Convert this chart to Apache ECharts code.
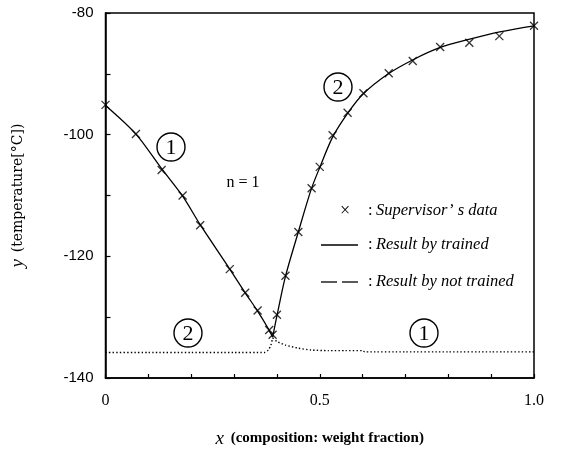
<!DOCTYPE html>
<html>
<head>
<meta charset="utf-8">
<script src="https://cdn.jsdelivr.net/npm/echarts@6/dist/echarts.min.js"></script>
<style>
html,body{margin:0;padding:0;background:#fff;}
#c{width:562px;height:455px;}
</style>
</head>
<body>
<div id="c"></div>
<script>
// Supervisor's data (x marks)
var supervisorX = [0, 0.071, 0.131, 0.180, 0.221, 0.290, 0.326, 0.355, 0.382, 0.390,
                   0.400, 0.420, 0.450, 0.481, 0.500, 0.530, 0.565, 0.602, 0.661, 0.717, 0.781, 0.849, 0.919, 1.0];
var supervisorY = [-95.1, -99.9, -105.8, -110.0, -114.9, -122.1, -126.0, -128.9, -132.1, -132.9,
                   -129.6, -123.2, -116.0, -108.8, -105.3, -100.1, -96.4, -93.2, -89.9, -87.9, -85.6, -84.9, -83.8, -82.1];
// Result by trained (solid) – branch 1 and branch 2
var trainedLeftX  = [0, 0.071, 0.131, 0.180, 0.221, 0.290, 0.326, 0.355, 0.380, 0.390];
var trainedLeftY  = [-95.2, -99.9, -105.6, -110.1, -114.8, -122.1, -126.0, -129.0, -131.9, -133.3];
var trainedRightX = [0.390, 0.400, 0.420, 0.450, 0.480, 0.500, 0.530, 0.565, 0.600, 0.660, 0.720, 0.780, 0.850, 0.920, 1.0];
var trainedRightY = [-133.3, -129.8, -123.3, -116.0, -109.0, -105.4, -100.4, -96.5, -93.4, -90.0, -87.6, -85.7, -84.3, -83.1, -82.1];
// Result by not trained (dotted)
var untrainedLeftX  = [0, 0.10, 0.20, 0.30, 0.372, 0.380, 0.386, 0.390];
var untrainedLeftY  = [-135.8, -135.8, -135.8, -135.8, -135.8, -135.4, -134.6, -133.4];
var untrainedRightX = [0.390, 0.400, 0.420, 0.450, 0.480, 0.520, 0.560, 0.600, 0.605, 0.700, 0.800, 0.900, 1.0];
var untrainedRightY = [-133.4, -134.0, -134.6, -135.1, -135.4, -135.5, -135.5, -135.5, -135.7, -135.7, -135.7, -135.7, -135.7];
// Axis ticks
var xLabels = {"0": "0", "0.5": "0.5", "1": "1.0"};
var yLabels = [-80, -100, -120, -140];

function zip(a, b) { return a.map(function (v, i) { return [v, b[i]]; }); }

var chart = echarts.init(document.getElementById('c'), null, {renderer: 'canvas'});
var serif = 'Liberation Serif';
var crossPath = 'path://M0,0L10,10M10,0L0,10';

var option = {
  backgroundColor: '#fff',
  animation: false,
  grid: {left: 105.5, right: 28, top: 13, bottom: 77, outerBoundsMode: 'none', containLabel: false,
         show: true, borderColor: '#000', borderWidth: 1.5, backgroundColor: 'transparent'},
  xAxis: {
    type: 'value', min: 0, max: 1, interval: 0.1,
    axisLine: {show: true, lineStyle: {color: '#000', width: 1.5}},
    axisTick: {show: true, inside: true, length: 4, lineStyle: {color: '#000', width: 1.2}},
    splitLine: {show: false},
    axisLabel: {
      color: '#000', fontFamily: serif, fontSize: 16, margin: 15,
      formatter: function (v) { var k = String(Math.round(v * 10) / 10); return xLabels[k] !== undefined ? xLabels[k] : ''; }
    },
    name: '{v|x}  {t|(composition: weight fraction)}',
    nameLocation: 'middle', nameGap: 51,
    nameTextStyle: {
      rich: {
        v: {fontFamily: serif, fontStyle: 'italic', fontSize: 19, color: '#000'},
        t: {fontFamily: serif, fontSize: 15, fontWeight: 'bold', color: '#000'}
      }
    }
  },
  yAxis: {
    type: 'value', min: -140, max: -80, interval: 10,
    axisLine: {show: true, lineStyle: {color: '#000', width: 1.5}},
    axisTick: {show: true, inside: true, length: 5, lineStyle: {color: '#000', width: 1.2}},
    splitLine: {show: false},
    axisLabel: {
      color: '#000', fontFamily: 'Liberation Sans', fontSize: 15, margin: 12,
      formatter: function (v) { return yLabels.indexOf(v) >= 0 ? String(v) : ''; }
    },
    name: '{v|y}  {t|(temperature[°C])}',
    nameLocation: 'middle', nameGap: 78, nameRotate: 90,
    nameTextStyle: {
      rich: {
        v: {fontFamily: serif, fontStyle: 'italic', fontSize: 19, color: '#000'},
        t: {fontFamily: 'DejaVu Serif', fontSize: 14, color: '#000'}
      }
    }
  },
  series: [
    {type: 'line', data: zip(trainedLeftX, trainedLeftY), smooth: 0.3, showSymbol: false, symbol: 'none',
     lineStyle: {color: '#000', width: 1.3}},
    {type: 'line', data: zip(trainedRightX, trainedRightY), smooth: 0.3, showSymbol: false, symbol: 'none',
     lineStyle: {color: '#000', width: 1.3}},
    {type: 'line', data: zip(untrainedLeftX, untrainedLeftY), smooth: 0.2, showSymbol: false, symbol: 'none',
     lineStyle: {color: '#000', width: 1.4, type: [1.4, 2.2]}},
    {type: 'line', data: zip(untrainedRightX, untrainedRightY), smooth: 0.2, showSymbol: false, symbol: 'none',
     lineStyle: {color: '#000', width: 1.4, type: [1.4, 2.2]}},
    {type: 'scatter', data: zip(supervisorX, supervisorY), symbol: crossPath, symbolSize: 8,
     itemStyle: {color: 'rgba(0,0,0,0)', borderColor: '#000', borderWidth: 1.3}}
  ],
  graphic: []
};

function circled(cx, cy, d) {
  return {
    type: 'group', x: cx, y: cy, children: [
      {type: 'circle', shape: {cx: 0, cy: 0, r: 14}, style: {fill: 'none', stroke: '#000', lineWidth: 1.4}},
      {type: 'text', x: 0, y: 1, style: {text: d, fontFamily: serif, fontSize: 22, fill: '#000', align: 'center', verticalAlign: 'middle'}}
    ]
  };
}
var legendRich = {
  c: {fontFamily: serif, fontSize: 16.5, fill: '#000'},
  i: {fontFamily: serif, fontSize: 16.5, fontStyle: 'italic', fill: '#000'}
};
option.graphic = [
  circled(171, 147, '1'),
  circled(338, 87, '2'),
  circled(188, 333, '2'),
  circled(424, 333, '1'),
  {type: 'text', x: 243, y: 183, style: {text: 'n = 1', fontFamily: serif, fontSize: 16, fill: '#000', align: 'center', verticalAlign: 'middle'}},
  {type: 'text', x: 345, y: 211, style: {text: '×', fontFamily: serif, fontSize: 18, fill: '#000', align: 'center', verticalAlign: 'middle'}},
  {type: 'text', x: 368, y: 211, style: {text: '{c|:} {i|Supervisor’ s data}', rich: legendRich, verticalAlign: 'middle'}},
  {type: 'line', shape: {x1: 321, y1: 245, x2: 358, y2: 245}, style: {stroke: '#000', lineWidth: 1.3}},
  {type: 'text', x: 368, y: 245, style: {text: '{c|:} {i|Result by trained}', rich: legendRich, verticalAlign: 'middle'}},
  {type: 'line', shape: {x1: 321, y1: 282, x2: 337, y2: 282}, style: {stroke: '#000', lineWidth: 1.3}},
  {type: 'line', shape: {x1: 342, y1: 282, x2: 358, y2: 282}, style: {stroke: '#000', lineWidth: 1.3}},
  {type: 'text', x: 368, y: 282, style: {text: '{c|:} {i|Result by not trained}', rich: legendRich, verticalAlign: 'middle'}}
];

chart.setOption(option);
</script>
</body>
</html>
